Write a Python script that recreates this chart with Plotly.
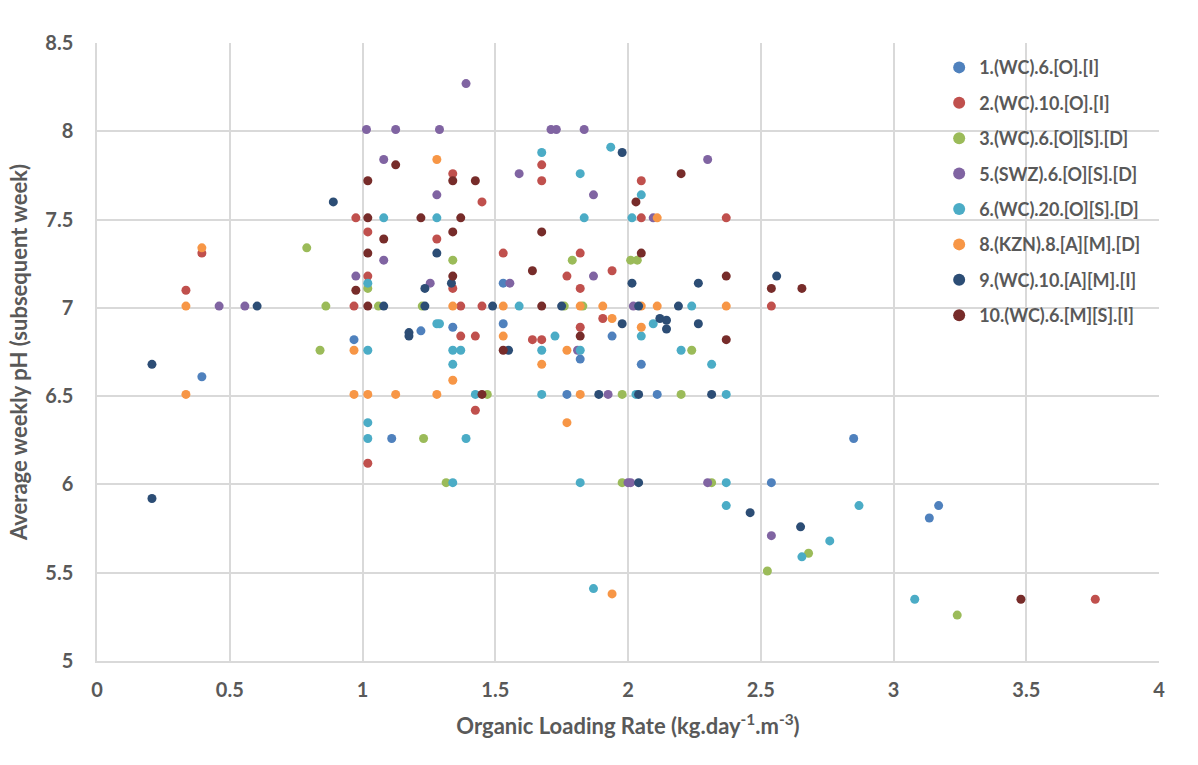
import plotly.graph_objects as go

names = ["1.(WC).6.[O].[I]", "2.(WC).10.[O].[I]", "3.(WC).6.[O][S].[D]", "5.(SWZ).6.[O][S].[D]",
         "6.(WC).20.[O][S].[D]", "8.(KZN).8.[A][M].[D]", "9.(WC).10.[A][M].[I]", "10.(WC).6.[M][S].[I]"]
colors = ["#4F81BD", "#C0504D", "#9BBB59", "#8064A2", "#4BACC6", "#F79646", "#2C4D75", "#772C2A"]

s1_x = [0.395, 0.968, 1.11, 1.22, 1.34, 1.53, 1.53, 1.77, 1.82, 1.94, 2.05, 2.11, 2.54, 2.85, 3.135, 3.17]
s1_y = [6.61, 6.82, 6.26, 6.87, 6.89, 7.14, 6.91, 6.51, 6.71, 6.84, 6.68, 6.51, 6.01, 6.26, 5.81, 5.88]

s2_x = [0.335, 0.395, 0.968, 0.975, 1.02, 1.02, 1.02, 1.28, 1.34, 1.34, 1.37, 1.37, 1.425, 1.425, 1.45, 1.45,
        1.53, 1.64, 1.675, 1.675, 1.675, 1.77, 1.82, 1.82, 1.82, 1.905, 1.94, 2.05, 2.05, 2.37, 2.54, 3.76]
s2_y = [7.10, 7.31, 7.01, 7.51, 7.43, 7.18, 6.12, 7.39, 7.76, 7.11, 7.01, 6.84, 6.84, 6.42, 7.60, 7.01,
        7.31, 6.82, 7.81, 7.72, 6.82, 7.18, 7.31, 7.11, 6.89, 6.94, 7.21, 7.72, 7.51, 7.51, 7.01, 5.35]

s3_x = [0.79, 0.84, 0.862, 1.02, 1.06, 1.225, 1.23, 1.315, 1.34, 1.47, 1.76, 1.79, 1.83, 1.978, 1.978,
        2.01, 2.035, 2.20, 2.24, 2.315, 2.525, 2.68, 3.24]
s3_y = [7.34, 6.76, 7.01, 7.11, 7.01, 7.01, 6.26, 6.01, 7.27, 6.51, 7.01, 7.27, 7.01, 6.51, 6.01,
        7.27, 7.27, 6.51, 6.76, 6.01, 5.51, 5.61, 5.26]

s5_x = [0.46, 0.557, 0.975, 1.015, 1.08, 1.08, 1.125, 1.255, 1.28, 1.29, 1.39, 1.555, 1.59, 1.71, 1.73,
        1.81, 1.835, 1.87, 1.87, 1.925, 2.0, 2.01, 2.02, 2.095, 2.30, 2.30, 2.54]
s5_y = [7.01, 7.01, 7.18, 8.01, 7.84, 7.27, 8.01, 7.14, 7.64, 8.01, 8.27, 7.14, 7.76, 8.01, 8.01,
        6.76, 8.01, 7.64, 7.18, 6.51, 6.01, 6.01, 7.01, 7.51, 7.84, 6.01, 5.71]

s6_x = [1.02, 1.02, 1.02, 1.02, 1.08, 1.28, 1.28, 1.29, 1.34, 1.34, 1.34, 1.37, 1.39, 1.425, 1.59, 1.675,
        1.675, 1.675, 1.725, 1.82, 1.82, 1.82, 1.835, 1.87, 1.935, 2.015, 2.03, 2.05, 2.05, 2.095, 2.20,
        2.24, 2.315, 2.37, 2.37, 2.37, 2.655, 2.76, 2.87, 3.08]
s6_y = [7.14, 6.76, 6.35, 6.26, 7.51, 7.51, 6.91, 6.91, 6.76, 6.68, 6.01, 6.76, 6.26, 6.51, 7.01, 7.88,
        6.76, 6.51, 6.84, 7.76, 6.76, 6.01, 7.51, 5.41, 7.91, 7.51, 6.51, 7.64, 6.84, 6.91, 6.76,
        7.01, 6.68, 6.51, 6.01, 5.88, 5.59, 5.68, 5.88, 5.35]

s8_x = [0.335, 0.335, 0.395, 0.968, 0.968, 1.02, 1.125, 1.28, 1.28, 1.34, 1.34, 1.53, 1.53, 1.675, 1.77,
        1.77, 1.82, 1.82, 1.905, 1.94, 1.94, 2.05, 2.05, 2.11, 2.11, 2.37]
s8_y = [7.01, 6.51, 7.34, 6.76, 6.51, 6.51, 6.51, 7.84, 6.51, 7.01, 6.59, 7.01, 6.84, 6.68, 6.76,
        6.35, 7.01, 6.51, 7.01, 6.94, 5.38, 7.01, 6.89, 7.51, 7.01, 7.01]

s9_x = [0.207, 0.207, 0.603, 0.89, 1.08, 1.175, 1.175, 1.235, 1.235, 1.28, 1.335, 1.49, 1.55, 1.75, 1.89,
        1.978, 1.978, 2.015, 2.04, 2.04, 2.04, 2.12, 2.145, 2.145, 2.19, 2.265, 2.265, 2.315, 2.46, 2.56, 2.65]
s9_y = [6.68, 5.92, 7.01, 7.60, 7.01, 6.86, 6.84, 7.11, 7.01, 7.31, 7.14, 7.01, 6.76, 7.01, 6.51,
        7.88, 6.91, 7.14, 7.01, 6.01, 6.51, 6.94, 6.93, 6.88, 7.01, 7.14, 6.91, 6.51, 5.84, 7.18, 5.76]

s10_x = [0.975, 1.02, 1.02, 1.02, 1.02, 1.08, 1.125, 1.22, 1.34, 1.34, 1.34, 1.37, 1.425, 1.45, 1.53,
         1.64, 1.675, 1.675, 1.82, 2.03, 2.05, 2.20, 2.37, 2.37, 2.54, 2.655, 3.48]
s10_y = [7.10, 7.72, 7.51, 7.31, 7.01, 7.39, 7.81, 7.51, 7.72, 7.43, 7.18, 7.51, 7.72, 6.51, 6.76,
         7.21, 7.43, 7.01, 6.84, 7.60, 7.31, 7.76, 7.18, 6.82, 7.11, 7.11, 5.35]

xs = [s1_x, s2_x, s3_x, s5_x, s6_x, s8_x, s9_x, s10_x]
ys = [s1_y, s2_y, s3_y, s5_y, s6_y, s8_y, s9_y, s10_y]

x_ticks = [0, 0.5, 1, 1.5, 2, 2.5, 3, 3.5, 4]
y_ticks = [5, 5.5, 6, 6.5, 7, 7.5, 8, 8.5]

FONT = "Lato, 'Open Sans', sans-serif"
GRAY = "#595959"

fig = go.Figure()
for i, (n, c, x, y) in enumerate(zip(names, colors, xs, ys)):
    fig.add_trace(go.Scatter(x=x, y=y, mode="markers", name=n, legendgroup=f"g{i}",
                             marker=dict(color=c, size=9, line=dict(width=0))))

fig.update_layout(
    width=1198, height=765,
    margin=dict(l=97, r=39, t=43, b=104),
    paper_bgcolor="white", plot_bgcolor="white",
    font=dict(family=FONT, color=GRAY, size=20),
    showlegend=True,
    legend=dict(x=0.793, y=0.99, xanchor="left", yanchor="top",
                bgcolor="rgba(0,0,0,0)", font=dict(size=18, color=GRAY, family=FONT, weight="bold"),
                tracegroupgap=9, traceorder="grouped", itemsizing="constant"),
    xaxis=dict(range=[0, 4], tickvals=x_ticks, ticktext=[f"<b>{t:g}</b>" for t in x_ticks],
               tickfont=dict(size=20, color=GRAY),
               showgrid=True, gridcolor="#D9D9D9", gridwidth=1.5, zeroline=False,
               showline=True, linecolor="#D9D9D9", linewidth=1.5, ticks="", ticklabelstandoff=10,
               title=dict(text="<b>Organic Loading Rate (kg.day<sup>-1</sup>.m<sup>-3</sup>)</b>",
                          font=dict(size=22, color=GRAY), standoff=19)),
    yaxis=dict(range=[5, 8.5], tickvals=y_ticks, ticktext=[f"<b>{t:g}</b>" for t in y_ticks],
               tickfont=dict(size=20, color=GRAY),
               showgrid=True, gridcolor="#D9D9D9", gridwidth=1.5, zeroline=False,
               showline=True, linecolor="#D9D9D9", linewidth=1.5, ticks="", ticklabelstandoff=18,
               title=dict(text="<b>Average weekly pH (subsequent week)</b>",
                          font=dict(size=22, color=GRAY), standoff=12)),
)

fig.write_html("out.html")
